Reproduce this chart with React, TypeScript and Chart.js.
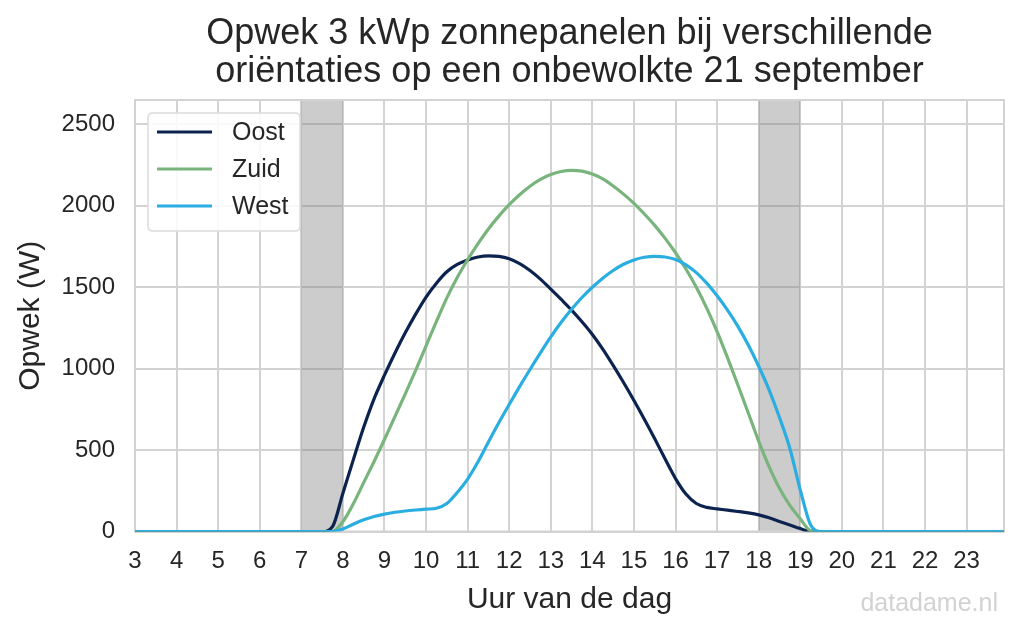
import React, { useEffect, useRef } from "react";
import { Chart, registerables } from "chart.js";

Chart.register(...registerables);

// ---------- data ----------
const HOURS = [
  3, 7.5, 7.75, 8, 8.25, 8.5, 8.75, 9, 9.25, 9.5, 9.75, 10, 10.25, 10.5, 10.75,
  11, 11.25, 11.5, 11.75, 12, 12.25, 12.5, 12.75, 13, 13.25, 13.5, 13.75, 14,
  14.25, 14.5, 14.75, 15, 15.25, 15.5, 15.75, 16, 16.25, 16.5, 16.75, 17, 17.25,
  17.5, 17.75, 18, 18.25, 18.5, 18.75, 19, 19.25, 19.5, 23.9,
];

const OOST = [
  0, 0, 30, 235, 440, 640, 815, 960, 1095, 1220, 1335, 1440, 1525, 1595, 1640,
  1668, 1686, 1693, 1690, 1675, 1645, 1603, 1550, 1488, 1425, 1360, 1288, 1210,
  1120, 1020, 915, 805, 690, 570, 445, 325, 230, 172, 148, 139, 131,
  123, 114, 102, 84, 62, 40, 18, 0, 0, 0,
];

const ZUID = [
  0, 0, 0, 60, 170, 300, 430, 565, 705, 845, 990, 1140, 1290, 1435, 1560,
  1669, 1768, 1858, 1937, 2007, 2068, 2120, 2162, 2192, 2211, 2218, 2213, 2195,
  2165, 2122, 2072, 2015, 1950, 1880, 1800, 1712, 1612, 1500, 1372, 1228, 1068,
  900, 728, 555, 398, 265, 160, 78, 5, 0, 0,
];

const WEST = [
  0, 0, 0, 15, 45, 72, 92, 107, 118, 126, 132, 137, 143, 172, 240,
  322, 428, 550, 668, 780, 890, 995, 1097, 1195, 1285, 1365, 1437, 1500,
  1556, 1603, 1641, 1668, 1684, 1690, 1686, 1670, 1638, 1590, 1525, 1448, 1360,
  1260, 1145, 1015, 870, 700, 510, 255, 40, 0, 0,
];

const SERIES_LABELS = ["Oost", "Zuid", "West"];
const SERIES_COLORS = ["#0c2350", "#78b47b", "#2aaee2"];
const SERIES_ORDER = [2, 1, 0]; // West drawn on top, as in the reference

const X_TICKS = [3, 4, 5, 6, 7, 8, 9, 10, 11, 12, 13, 14, 15, 16, 17, 18, 19, 20, 21, 22, 23];
const Y_TICKS = [0, 500, 1000, 1500, 2000, 2500];
const SHADED_HOURS = [
  [7, 8],
  [18, 19],
];

const TITLE_LINES = [
  "Opwek 3 kWp zonnepanelen bij verschillende",
  "oriëntaties op een onbewolkte 21 september",
];
const X_TITLE = "Uur van de dag";
const Y_TITLE = "Opwek (W)";
const WATERMARK = "datadame.nl";

// ---------- styling ----------
const FAMILY = "'Liberation Sans', Arial, Helvetica, sans-serif";
const TEXT = "#262626";
const GRID = "#d3d3d3";

const bandsPlugin = {
  id: "bands",
  beforeDatasetsDraw(chart: any) {
    const { ctx, chartArea, scales } = chart;
    const x = scales.x;
    ctx.save();
    ctx.fillStyle = "rgba(120,120,120,0.38)";
    SHADED_HOURS.forEach(([a, b]) => {
      const x0 = x.getPixelForValue(a);
      const x1 = x.getPixelForValue(b);
      ctx.fillRect(x0, chartArea.top, x1 - x0, chartArea.bottom - chartArea.top);
    });
    ctx.strokeStyle = GRID;
    ctx.lineWidth = 2;
    ctx.strokeRect(
      chartArea.left,
      chartArea.top,
      chartArea.right - chartArea.left,
      chartArea.bottom - chartArea.top
    );
    ctx.restore();
  },
};

const overlayPlugin = {
  id: "overlay",
  afterDraw(chart: any) {
    const { ctx, chartArea } = chart;
    ctx.save();
    // legend box
    const bx = chartArea.left + 13;
    const by = chartArea.top + 13;
    const bw = 152;
    const bh = 118;
    const r = 5;
    ctx.beginPath();
    ctx.moveTo(bx + r, by);
    ctx.lineTo(bx + bw - r, by);
    ctx.quadraticCurveTo(bx + bw, by, bx + bw, by + r);
    ctx.lineTo(bx + bw, by + bh - r);
    ctx.quadraticCurveTo(bx + bw, by + bh, bx + bw - r, by + bh);
    ctx.lineTo(bx + r, by + bh);
    ctx.quadraticCurveTo(bx, by + bh, bx, by + bh - r);
    ctx.lineTo(bx, by + r);
    ctx.quadraticCurveTo(bx, by, bx + r, by);
    ctx.closePath();
    ctx.fillStyle = "rgba(255,255,255,0.85)";
    ctx.fill();
    ctx.strokeStyle = "#dcdcdc";
    ctx.lineWidth = 1.5;
    ctx.stroke();

    ctx.font = `25px ${FAMILY}`;
    ctx.textBaseline = "middle";
    ctx.textAlign = "left";
    chart.data.datasets.forEach((ds: any, i: number) => {
      const y = by + 19 + i * 37;
      ctx.strokeStyle = ds.borderColor;
      ctx.lineWidth = 3;
      ctx.beginPath();
      ctx.moveTo(bx + 9, y);
      ctx.lineTo(bx + 64, y);
      ctx.stroke();
      ctx.fillStyle = TEXT;
      ctx.fillText(ds.label, bx + 84, y + 1);
    });

    // watermark
    ctx.font = `25px ${FAMILY}`;
    ctx.fillStyle = "#d2d2d2";
    ctx.textAlign = "right";
    ctx.textBaseline = "alphabetic";
    ctx.fillText(WATERMARK, 998, 611);
    ctx.restore();
  },
};

export default function App() {
  const canvasRef = useRef<HTMLCanvasElement | null>(null);

  useEffect(() => {
    const canvas = canvasRef.current;
    if (!canvas) return;
    const datasets = [OOST, ZUID, WEST].map((vals, i) => ({
      label: SERIES_LABELS[i],
      data: HOURS.map((h, j) => ({ x: h, y: vals[j] })),
      borderColor: SERIES_COLORS[i],
      backgroundColor: SERIES_COLORS[i],
      borderWidth: 3.2,
      pointRadius: 0,
      fill: false,
      order: SERIES_ORDER[i],
      cubicInterpolationMode: "monotone" as const,
    }));

    const chart = new Chart(canvas, {
      type: "line",
      data: { datasets },
      plugins: [bandsPlugin, overlayPlugin],
      options: {
        responsive: false,
        animation: false,
        layout: { padding: { left: 0, right: 20, top: 0, bottom: 0 } },
        plugins: {
          legend: { display: false },
          tooltip: { enabled: false },
          title: {
            display: true,
            fullSize: false,
            text: TITLE_LINES,
            color: TEXT,
            font: { family: FAMILY, size: 36, weight: "normal", lineHeight: 38 / 36 },
            padding: { top: 15, bottom: 9 },
          },
        },
        scales: {
          x: {
            type: "linear",
            min: 3,
            max: 23.9,
            afterBuildTicks: (s: any) => {
              s.ticks = X_TICKS.map((v) => ({ value: v }));
            },
            afterFit: (s: any) => {
              s.height = 103.5;
            },
            ticks: {
              autoSkip: false,
              maxRotation: 0,
              minRotation: 0,
              padding: 15,
              color: TEXT,
              font: { family: FAMILY, size: 24 },
              callback: (v: any) => String(v),
            },
            grid: { color: GRID, lineWidth: 2, drawTicks: false },
            border: { display: false },
            title: {
              display: true,
              text: X_TITLE,
              color: TEXT,
              font: { family: FAMILY, size: 30 },
              padding: { top: 0, bottom: 17 },
            },
          },
          y: {
            type: "linear",
            min: 0,
            max: 2650,
            afterBuildTicks: (s: any) => {
              s.ticks = Y_TICKS.map((v) => ({ value: v }));
            },
            afterFit: (s: any) => {
              s.width = 135;
            },
            ticks: {
              padding: 20,
              color: TEXT,
              font: { family: FAMILY, size: 24 },
              callback: (v: any) => String(v),
            },
            grid: { color: GRID, lineWidth: 2, drawTicks: false },
            border: { display: false },
            title: {
              display: true,
              text: Y_TITLE,
              color: TEXT,
              font: { family: FAMILY, size: 30 },
              padding: { top: 13, bottom: 0 },
            },
          },
        },
      },
    });
    return () => chart.destroy();
  }, []);

  return (
    <div
      style={{
        position: "fixed",
        left: 0,
        top: 0,
        width: 1024,
        height: 635,
        background: "#ffffff",
      }}
    >
      <canvas ref={canvasRef} width={1024} height={635} />
    </div>
  );
}
